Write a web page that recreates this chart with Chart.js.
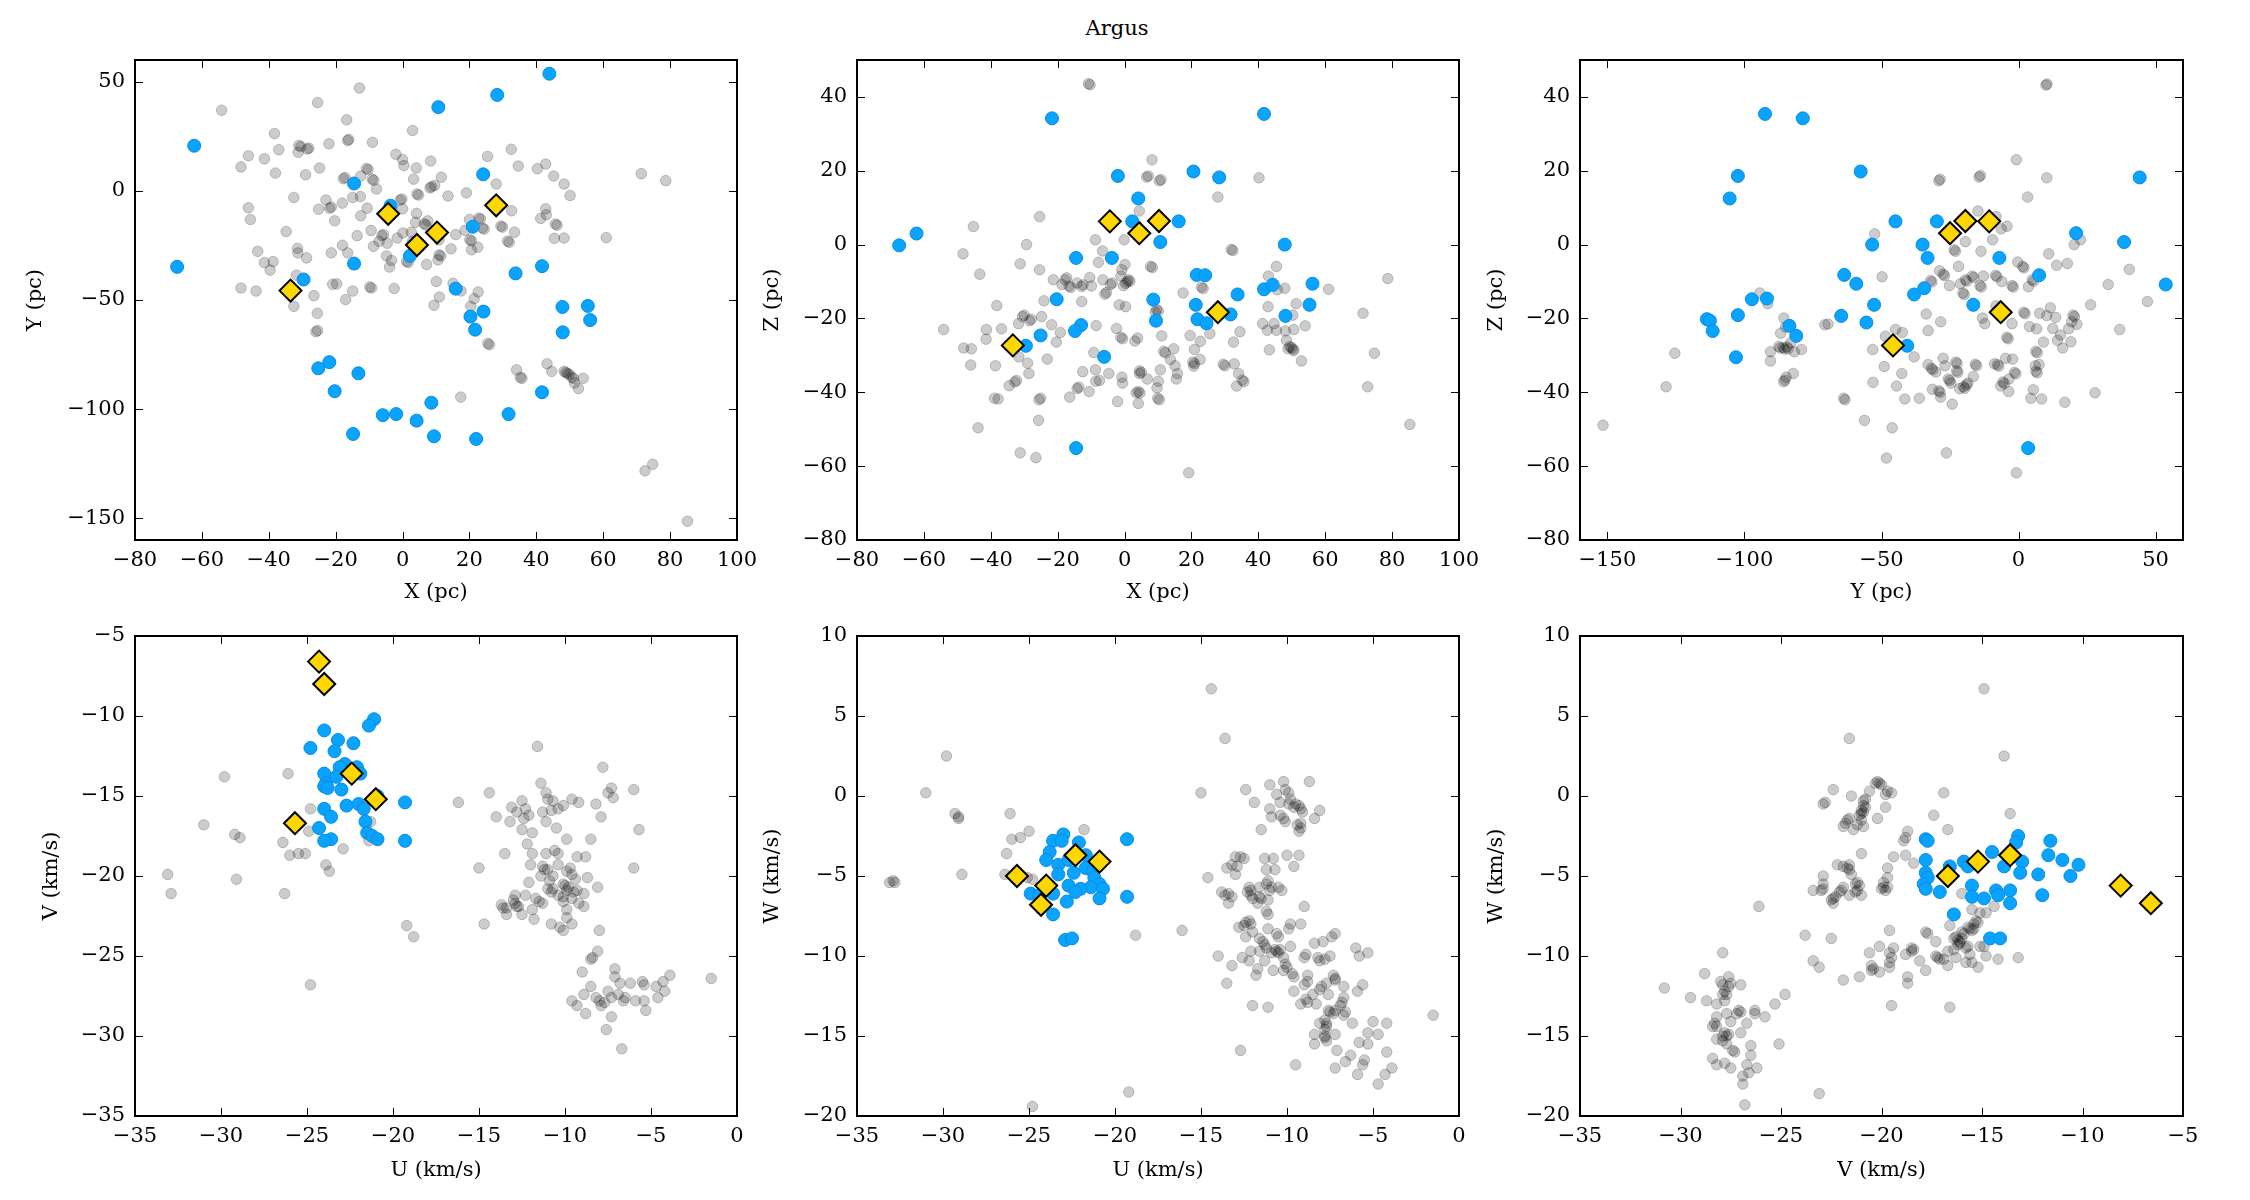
<!DOCTYPE html>
<html>
<head>
<meta charset="utf-8">
<script src="https://cdn.jsdelivr.net/npm/chart.js@4"></script>
<style>
  body { margin: 0; background: #fff; width: 2250px; height: 1200px; position: relative; overflow: hidden; font-family: 'DejaVu Serif'; }
  canvas { position: absolute; }
  #title { position: absolute; left: 0; width: 2234px; top: 16px; text-align: center; font-size: 21px; line-height: 25px; color: #000; }
</style>
</head>
<body>
<div id="title">Argus</div>
<canvas id="c1"></canvas>
<canvas id="c2"></canvas>
<canvas id="c3"></canvas>
<canvas id="c4"></canvas>
<canvas id="c5"></canvas>
<canvas id="c6"></canvas>
<script>
// Ticks
const ticksPcX = [-80, -60, -40, -20, 0, 20, 40, 60, 80, 100];
const ticksY = [-150, -100, -50, 0, 50];
const ticksZ = [-80, -60, -40, -20, 0, 20, 40];
const ticksU = [-35, -30, -25, -20, -15, -10, -5, 0];
const ticksV = [-35, -30, -25, -20, -15, -10, -5];
const ticksW = [-20, -15, -10, -5, 0, 5, 10];

// X - Y (pc)
const xyGray = [[-12.9,47.2],[-25.4,40.5],[-54.1,37],[-16.7,32.6],[3,27.7],[-38.3,26.3],[-16.4,23.1],[-16.1,23.6],[-30.4,20.3],[-31,20.8],[-28,19.6],[-28.5,19.2],[-37,18.9],[-22,21.6],[-9,22.3],[32.5,19.1],[-31.2,17.7],[-46.1,16.1],[-48.3,11],[-41.3,14.7],[-2,16.8],[0,14.4],[8.4,13.7],[25.4,15.8],[34.6,11.4],[42.8,12.3],[40.3,10.2],[45.2,6.8],[48.3,3.2],[50.1,-2.1],[71.4,7.9],[78.7,4.7],[0.4,11.6],[4.1,10.5],[3.3,5.4],[-10.3,9.8],[-10.8,10.3],[-17.7,5.6],[-17.2,6.1],[-8.6,4.9],[-9.1,5.4],[-24.8,10.5],[-29,7.4],[-38,8.2],[-12.5,6.8],[11.6,6.3],[8.7,1.9],[8.2,1.4],[9.6,2.5],[-7.8,0.9],[4.3,-1.4],[4.8,-1.9],[13.6,-2.3],[19.1,-0.9],[28,3.2],[-32.5,-3],[-12.6,-2.6],[-14.9,-3],[-18,-5.6],[-0.7,-4.2],[-0.2,-3.7],[-46.1,-7.7],[-45.5,-13.1],[-25.1,-8.4],[-21.3,-7.4],[-21.8,-7.9],[-22.9,-4.2],[-20.3,-13.7],[-12.5,-11.4],[-10.6,-7.9],[0,-8.2],[4.2,-10.3],[3.9,-14.4],[7.5,-13.7],[6.5,-15.1],[7,-15.6],[20,-13.1],[22.8,-12.4],[23.3,-12.9],[23.9,-17],[24.4,-17.5],[32.6,-9.1],[29.4,-16.1],[29.9,-16.6],[33.5,-18.9],[41.3,-12.6],[42.8,-8.2],[43,-10.9],[45.7,-15.2],[46.2,-15.7],[45.4,-21.7],[48.3,-21.6],[60.9,-21.4],[-34.8,-18.6],[-18,-24.9],[-13.6,-20.5],[-9.4,-18.1],[-5.7,-20],[-6.2,-20.5],[-7,-23.1],[-4.6,-24],[-1.6,-21.6],[0.1,-19.3],[2.6,-18.9],[3,-23.1],[10.9,-22.4],[14.5,-26.5],[15.9,-20],[20.1,-22.4],[20.6,-22.9],[20.6,-27],[22.5,-25.8],[18.7,-18.1],[31.4,-23],[31.9,-23.5],[-31.4,-26.3],[-28.7,-30.7],[-31.3,-28.4],[-43.3,-27.7],[-41.3,-32.8],[-38.7,-32.4],[-39.6,-36.3],[-31.7,-38.6],[-21.3,-28.4],[-16.4,-28.4],[-8.7,-25.4],[-4.8,-29.8],[-3.3,-31.9],[-3.9,-34.9],[1.2,-32.3],[1.7,-32.8],[7.2,-33.7],[10.9,-29.3],[11.4,-29.8],[10.6,-31.6],[-14.9,-45.9],[-17,-49.8],[-9.3,-44.5],[-9.8,-44],[-2.5,-44.7],[-20.9,-42.8],[-19.7,-42.6],[-48.3,-44.5],[-43.8,-45.9],[-32.5,-52.9],[-26.5,-48],[-25.5,-56.1],[-25.4,-64],[-25.9,-64.5],[10.1,-41.5],[11,-48.6],[15.1,-42.4],[17.5,-45.9],[21.4,-49.4],[22.6,-46.3],[20.4,-52.9],[9.4,-52.4],[25.5,-69.9],[26,-70.5],[43.2,-79.2],[44.6,-82.7],[34.1,-82],[35.2,-85.4],[35.7,-85.9],[48.3,-82.7],[48.8,-83.2],[49.3,-83.6],[49.8,-84],[50.6,-85.4],[51.1,-85.9],[51.4,-88],[52.6,-90.6],[54,-85.9],[17.4,-94.5],[72.5,-128.3],[74.8,-125.3],[85.2,-151.4]];
const xyBlue = [[43.9,53.7],[28.3,44],[10.7,38.4],[-62.3,20.7],[24.1,7.6],[-14.5,3.4],[-3.6,-6.8],[21,-16.4],[2.2,-29.8],[-14.5,-33.3],[-67.4,-34.8],[41.7,-34.5],[33.8,-37.8],[-29.6,-40.6],[15.9,-44.8],[47.8,-53.2],[55.4,-52.7],[24.2,-55.3],[20.3,-57.6],[56.1,-59.2],[21.7,-63.6],[47.9,-64.8],[-21.9,-78.5],[-25.2,-81.3],[-13.2,-83.6],[-20.3,-91.8],[41.7,-92.3],[8.6,-97.1],[-5.9,-102.8],[-1.9,-102.3],[31.7,-102.3],[4.2,-105.3],[-14.8,-111.4],[9.4,-112.5],[22,-113.7]];
const xyStar = [[-4.3,-10.5],[28,-6.6],[10.3,-19.1],[4.3,-24.8],[-33.5,-45.7]];

// X - Z (pc)
const xzGray = [[-10.3,43.3],[-10.8,43.6],[8.2,23],[6.6,18.3],[7.1,18.6],[10.4,17.3],[10.9,17.6],[40.2,18.1],[27.9,12.9],[4.4,9.1],[-25.4,7.6],[-45.2,4.9],[-29.3,0],[-48.3,-2.5],[-8.7,1.3],[-0.1,1.3],[-6.6,-1.7],[-7.8,-4.8],[-31.2,-5.2],[-43.3,-8],[-25.4,-6.8],[0.1,-5.4],[-0.8,-6.8],[7.8,-5.9],[8.3,-6.2],[31.9,-1.3],[32.4,-1.6],[45.4,-5.9],[43,-8.5],[45.7,-12.2],[47.9,-11.8],[61,-12.1],[78.7,-9.2],[-21.3,-9.5],[-17.3,-9],[-17.8,-9.5],[-16.6,-11.2],[-16.1,-11.6],[-18.7,-10.8],[-12.4,-10.9],[-12.9,-11.3],[-14.2,-10.4],[-10.4,-8.9],[-6.5,-9.5],[-3.7,-10.4],[-4.2,-10.8],[-1.1,-8.5],[1.1,-9.5],[1.6,-9.9],[0.8,-10.1],[0.3,-10.5],[-0.3,-11.1],[-5.4,-13],[-5.9,-13.4],[-9.9,-11.2],[23,-11.5],[23.5,-11.9],[17.5,-13.1],[42.9,-16.8],[51.3,-16],[50.3,-19.1],[54,-22],[50.6,-23],[41.3,-21.4],[44.7,-21.4],[42.7,-23.2],[45.4,-23.2],[48.1,-23.4],[48.4,-25.9],[49.9,-27.9],[50.4,-28.3],[48.9,-28.2],[49.4,-27.6],[50.6,-28.7],[52.9,-31.5],[43.3,-28.5],[34.5,-23.6],[32.6,-26.4],[25.5,-24.1],[22.7,-26.2],[19.6,-24.6],[20.9,-28.4],[20.4,-31.8],[20.9,-32.2],[20.7,-32.9],[22.6,-31.1],[29.5,-32.4],[30,-32.8],[32.8,-32.3],[34.1,-34.9],[35.2,-36.7],[35.7,-37.1],[33.5,-38.3],[71.3,-18.6],[74.7,-29.4],[72.7,-38.5],[85.3,-48.7],[9.2,-18.3],[9.6,-17.6],[10.1,-18],[11.1,-24.7],[11.7,-28.9],[12.2,-29.3],[14.7,-28.2],[13.7,-31.1],[15.1,-32.8],[15.8,-34.9],[15.5,-36.4],[10.7,-33.9],[10.1,-37],[9.7,-38.8],[9.9,-41.6],[10.4,-42],[4.5,-34.2],[5,-34.6],[4.5,-34.9],[6.8,-36.4],[4.1,-39.8],[4.6,-40.2],[3.5,-40.1],[4.1,-43],[-0.6,-37.5],[-2.1,-42.5],[-0.8,-35.9],[-1.1,-25.1],[-0.6,-25.5],[3.1,-26.1],[3.9,-25.3],[-2.4,-22.7],[0.3,-16.8],[-1.6,-16.3],[-8.5,-21.9],[-9.2,-29.2],[-8.7,-33.9],[-4.7,-34.9],[-7.5,-36.8],[-8.6,-37],[-12.5,-34.4],[-13.7,-38.6],[-14.2,-39],[-10.6,-39.8],[-16.4,-41.3],[-25.1,-41.6],[-25.6,-42],[-25.7,-47.6],[-23.1,-31],[-20.4,-26.4],[-19.2,-23.8],[-21.8,-21.7],[-24.8,-19.5],[-24.1,-15.2],[-12.8,-15.4],[-29,-32.1],[-28.6,-34.9],[-31.6,-30.4],[-30,-19.1],[-30.5,-19.5],[-27.9,-20.2],[-28.4,-20.6],[-31.7,-21.4],[-32.3,-36.8],[-32.8,-37.2],[-34.5,-38.2],[-36.8,-22.8],[-38.2,-16.5],[-41.3,-23],[-41.4,-25.6],[-45.8,-28.2],[-48.1,-28],[-46,-32.6],[-38.6,-32.8],[-54.1,-23],[-38.9,-41.6],[-37.8,-41.8],[-43.8,-49.6],[-31.2,-56.4],[-26.5,-57.7],[19.2,-61.8]];
const xzBlue = [[-21.7,34.2],[41.7,35.4],[-2,18.6],[20.6,19.8],[28.3,18.2],[4.1,12.5],[2.3,6.3],[16.2,6.3],[-67.4,-0.2],[-62.2,3],[10.7,0.7],[47.9,0],[-14.5,-3.6],[-3.8,-3.6],[21.6,-8.2],[24.1,-8.3],[41.7,-12.1],[44.3,-10.9],[56.2,-10.6],[33.8,-13.5],[-20.3,-14.8],[8.6,-14.9],[21.3,-16.3],[55.3,-16.3],[9.4,-20.6],[21.8,-20.2],[31.7,-18.9],[24.5,-21.3],[48.1,-19.3],[-13,-21.8],[-14.8,-23.4],[-25.1,-24.6],[-29.5,-27.4],[-6.1,-30.4],[-14.5,-55.1]];
const xzStar = [[-4.4,6.3],[4.4,3.1],[10.3,6.4],[27.9,-18.3],[-33.4,-27.3]];

// Y - Z (pc)
const yzGray = [[10,43.2],[10.4,43.5],[-0.8,23],[-29.1,17.3],[-28.6,17.7],[-14.4,18.3],[-13.9,18.7],[10.3,18.1],[3.3,12.9],[-52.5,2.9],[-14.8,9.1],[-8.2,7.6],[-4.2,5],[-6.3,4.3],[-9.5,1.3],[-19.4,0.8],[-23.5,-1.4],[-23,-1.8],[-13.7,-1.8],[11,-2.5],[13.9,-5.6],[17.8,-5.1],[22.6,1.3],[20.3,0],[-0.3,-4.7],[1.5,-5.9],[2,-6.3],[40.4,-6.7],[-21.9,-5.9],[-28.8,-7.1],[-27.5,-8],[-27,-8.4],[-49.8,-8.7],[-32.1,-9.7],[-31.6,-10.1],[-25.2,-11.1],[-21.2,-10.6],[-19.4,-9.5],[-18.9,-9.9],[-16.9,-8.5],[-16.4,-8.9],[-14.1,-11.1],[-13.6,-11.5],[-12.8,-8.5],[-8.4,-8.3],[-7.9,-8.7],[-6.1,-10],[-2.4,-11.1],[-1.9,-11.5],[5,-9.5],[5.5,-9.9],[3.6,-11.4],[-20.3,-13.1],[-19.8,-13.5],[32.7,-10.8],[47,-15.4],[26.3,-16.3],[7.7,-18.6],[1.9,-18.3],[2.4,-18.7],[11.6,-17.1],[10.3,-19.2],[13.5,-19.7],[19.9,-19.1],[20.4,-19.5],[19.4,-20.9],[21.3,-21.6],[18.3,-22.8],[14.2,-25.9],[12.5,-22.7],[15.3,-24.5],[19.1,-26.3],[16.1,-28],[9.1,-26.4],[6.6,-22.8],[4,-22.2],[-2.4,-21.4],[-13.2,-19.9],[-12.3,-21.4],[-8.2,-16.6],[36.9,-23],[-4.3,-25.1],[-3.8,-25.5],[6.3,-28.9],[6.8,-29.3],[6.1,-32.8],[7.5,-32.5],[6.3,-34.3],[6.8,-34.7],[5.4,-39.3],[4.5,-41.6],[8.4,-41.8],[16.9,-42.7],[27.9,-40.1],[-2.2,-31],[-4.7,-30.8],[-8.8,-32.3],[-7.7,-32.5],[-7.2,-32.9],[-1.5,-34.6],[-1,-35],[-3.5,-36.4],[-5.7,-37.2],[-5.2,-37.6],[-6.5,-38.3],[-3.6,-39.8],[-15.8,-32.4],[-15.3,-32.8],[-16.5,-35.7],[-18.5,-37.5],[-20.1,-38.5],[-19.6,-38.9],[-19,-38],[-21.5,-39],[-22.9,-31.8],[-22.4,-32.2],[-22.6,-34.2],[-22.1,-34.6],[-25.6,-36.4],[-25.1,-36.8],[-24.7,-37.5],[-27.5,-30.8],[-26.8,-32.8],[-33,-32.5],[-31.8,-33.5],[-31.3,-33.9],[-30.2,-34.5],[-29.1,-39.6],[-28.6,-40],[-31.4,-39.2],[-28.4,-41.3],[-24.2,-43.2],[-33.7,-18.8],[-28.4,-20.9],[-33,-23.3],[-38.1,-30.4],[-42.6,-34.9],[-44.9,-23],[-42.4,-23.8],[-48.6,-24.8],[-53.2,-28.4],[-49,-33],[-53.1,-37.3],[-44.5,-38.3],[-41.5,-41.8],[-36.2,-41.6],[-63.8,-41.6],[-63.3,-42],[-56.2,-47.6],[-46.1,-49.6],[-48.2,-57.8],[-26.3,-56.4],[-0.8,-61.8],[-94.4,-13.1],[-91.5,-16],[-85.6,-19.9],[-85,-22.3],[-86.8,-24],[-87.5,-27.6],[-87,-28],[-85.8,-27.9],[-85.3,-28.3],[-84,-28.2],[-84.5,-27.7],[-83.1,-26.6],[-81.8,-29],[-79.2,-28.4],[-90.5,-29],[-90.5,-31.5],[-85.2,-36.7],[-85.7,-37.1],[-84.8,-35.9],[-82.2,-34.9],[-69.5,-21.5],[-70.7,-21.7],[-125.4,-29.4],[-128.6,-38.5],[-151.6,-48.9]];
const yzBlue = [[-92.5,35.4],[-78.7,34.2],[-57.6,19.8],[-102.4,18.6],[-105.4,12.5],[44.2,18.2],[-44.9,6.3],[-29.8,6.3],[-53.4,0],[-35,0],[-33.2,-3.6],[-7,-3.6],[21,3.1],[38.5,0.7],[-63.6,-8.2],[-59.2,-10.6],[7.5,-8.3],[53.7,-10.8],[-97.3,-14.8],[-91.8,-14.6],[-38.1,-13.5],[-34.4,-11.8],[-52.7,-16.3],[-16.5,-16.3],[-113.7,-20.2],[-112.6,-20.6],[-111.6,-23.4],[-102.4,-19.1],[-64.7,-19.3],[-55.5,-21.1],[-83.6,-22],[-81.1,-24.7],[-40.6,-27.4],[-103.1,-30.5],[3.5,-55.1]];
const yzStar = [[-25,3.1],[-19.4,6.4],[-10.7,6.3],[-6.5,-18.3],[-45.8,-27.3]];

// U - V (km/s)
const uvGray = [[-33.1,-19.9],[-32.9,-21.1],[-29.8,-13.8],[-31,-16.8],[-29.2,-17.4],[-28.9,-17.6],[-29.1,-20.2],[-26.4,-17.9],[-26.1,-13.6],[-26,-18.7],[-25.5,-18.6],[-25.1,-18.6],[-26.3,-21.1],[-24.8,-15.8],[-24.9,-17.2],[-23.9,-19.3],[-23.7,-19.7],[-22.9,-18.3],[-24.8,-26.8],[-21.3,-16.6],[-21.4,-17.8],[-19.2,-23.1],[-18.8,-23.8],[-16.2,-15.4],[-15,-19.5],[-14.4,-14.8],[-14.7,-23],[-14,-16.3],[-13.5,-18.6],[-13.2,-16.6],[-13.1,-15.7],[-12.8,-16],[-12.5,-15.3],[-12.5,-17.1],[-12.3,-15.8],[-12.1,-16.2],[-12.4,-16.4],[-11.9,-17.3],[-12.2,-18],[-11.9,-18.6],[-11.6,-11.9],[-11.4,-14.2],[-11.1,-14.8],[-11,-15.2],[-10.8,-15.9],[-11.3,-16],[-10.7,-15.3],[-10.4,-15.8],[-10.1,-15.6],[-10.5,-17],[-11.1,-16.6],[-9.9,-17.7],[-11.1,-18.6],[-10.6,-18.4],[-10.4,-18.6],[-9.6,-15.2],[-9.2,-15.4],[-9.3,-18.8],[-8.8,-18.8],[-8.2,-15.5],[-7.9,-16.3],[-7.8,-13.2],[-7.5,-14.8],[-7.3,-14.5],[-7.2,-15.1],[-8.5,-17.7],[-6,-14.6],[-5.7,-17.1],[-6,-19.5],[-8.1,-20.7],[-8,-23.4],[-8.1,-24.7],[-8.5,-25.2],[-8.4,-25.1],[-9,-26],[-7.1,-25.8],[-7.1,-26.3],[-8.9,-27.4],[-8.5,-26.9],[-9.6,-27.8],[-9.3,-28.1],[-8.8,-28.6],[-8.2,-27.6],[-7.7,-27.9],[-7.9,-28.1],[-8,-27.8],[-7.5,-27.2],[-7.3,-27.6],[-6.9,-27.4],[-6.6,-27.8],[-6.5,-27.6],[-6.8,-26.7],[-6.2,-26.7],[-5.9,-27.8],[-5.5,-26.6],[-5.4,-26.8],[-5.4,-27.8],[-5.3,-28.4],[-4.7,-26.9],[-4.6,-27.6],[-4.3,-26.6],[-4.2,-27.2],[-3.9,-26.2],[-7.3,-28.8],[-7.6,-29.6],[-6.7,-30.8],[-1.5,-26.4],[-12,-19.3],[-11.3,-19.4],[-11.2,-19.6],[-11,-19.6],[-10.4,-19.3],[-9.9,-19.7],[-9.7,-19.5],[-9.6,-19.9],[-9.4,-20.2],[-8.7,-20.1],[-10.1,-20.5],[-9.8,-20.7],[-10,-20.6],[-9.9,-20.9],[-9.3,-20.9],[-9.5,-21],[-8.9,-21.1],[-11,-20.8],[-10.8,-21],[-10.7,-20.8],[-10.4,-21.2],[-10.1,-21.3],[-9.6,-21.4],[-9.2,-21.7],[-8.9,-21.9],[-10.1,-21.6],[-9.9,-22.1],[-9.9,-22.6],[-9.6,-23],[-10.3,-23.2],[-10.1,-23.4],[-10.8,-23],[-11.8,-22.7],[-11.9,-22.1],[-11.7,-21.4],[-11.5,-21.6],[-11.3,-21.7],[-12.3,-21.2],[-12.9,-21.2],[-13,-21.5],[-12.9,-21.7],[-12.7,-21.9],[-12.8,-21.9],[-12.5,-22.4],[-13.4,-22],[-13.7,-21.8],[-13.6,-22],[-13.4,-22.4],[-12.1,-20.4],[-10.9,-20.3],[-10.7,-20],[-11.4,-20]];
const uvBlue = [[-21.1,-10.2],[-21.4,-10.6],[-24,-10.9],[-24.8,-12],[-23.2,-11.5],[-22.3,-11.7],[-23.4,-12.2],[-22.8,-13],[-23.1,-13.2],[-22.1,-13.2],[-24,-13.6],[-23.9,-14.2],[-24,-14.4],[-23.8,-14.5],[-23,-14.6],[-23.3,-13.8],[-21.9,-13.6],[-22.7,-15.6],[-22,-15.5],[-20.9,-15],[-19.3,-15.4],[-24,-15.8],[-21.7,-15.8],[-23.6,-16.3],[-21.6,-16.6],[-24.3,-17],[-21.5,-17.3],[-21.2,-17.5],[-20.9,-17.7],[-23.6,-17.7],[-24,-17.8],[-19.3,-17.8]];
const uvStar = [[-24.3,-6.6],[-24,-8],[-22.4,-13.6],[-21,-15.2],[-25.7,-16.7]];

// U - W (km/s)
const uwGray = [[-14.4,6.7],[-13.6,3.6],[-29.8,2.5],[-31,0.2],[-15,0.2],[-29.1,-1.3],[-29.3,-1.1],[-29.1,-1.4],[-26.1,-1.1],[-26,-2.7],[-25.5,-2.6],[-25,-2.2],[-21.8,-2.1],[-26.3,-3.6],[-28.9,-4.9],[-26.4,-4.9],[-24.8,-5.2],[-25.1,-5.1],[-33.1,-5.4],[-32.8,-5.4],[-32.9,-5.3],[-16.1,-8.4],[-18.8,-8.7],[-19.2,-18.5],[-24.8,-19.4],[-12.4,0.4],[-11.9,-0.4],[-11,0.7],[-10.2,0.9],[-10.6,0.1],[-11,-0.8],[-10.9,-1.3],[-11.5,-2.1],[-10.2,-1.4],[-10.4,-1.2],[-10.1,-1.6],[-9.9,0.2],[-10.1,0.4],[-9.8,-0.2],[-9.9,-0.5],[-9.6,-0.7],[-9.5,-0.5],[-10.4,-0.4],[-9.2,-0.8],[-9.3,-0.6],[-9.1,-1],[-9.2,-1.7],[-9.4,-1.8],[-9.2,-2],[-9.3,-2.2],[-8.7,0.9],[-8.4,-1.4],[-8.1,-0.9],[-9.3,-3.7],[-10,-3.7],[-9.6,-4.4],[-10.8,-3.9],[-11.3,-3.9],[-11.2,-4.6],[-10.7,-4.6],[-12.7,-3.8],[-12.5,-3.9],[-13,-3.8],[-12.9,-4.4],[-13,-4.9],[-14.6,-5.1],[-13.8,-6],[-13.4,-6.1],[-13.6,-6.2],[-13.2,-6.3],[-13.4,-6.7],[-12.2,-5.7],[-12.1,-5.9],[-12.3,-6],[-11.6,-5.7],[-11.2,-5.5],[-11.1,-5.3],[-10.9,-5.7],[-11,-5.9],[-10.5,-5.7],[-10.3,-5.9],[-11.6,-6.3],[-11.5,-6.4],[-11.7,-6.7],[-11.2,-7.2],[-11.1,-7.4],[-11.1,-6.5],[-12,-6.4],[-12.1,-6.2],[-9,-6.9],[-9.2,-8],[-12.8,-8.2],[-12.4,-7.9],[-12.5,-8.1],[-12.1,-8],[-12.2,-7.8],[-12,-8.5],[-12.4,-8.8],[-11.6,-8.9],[-11.4,-9.1],[-11.3,-9.3],[-11.2,-9.5],[-11.1,-8.3],[-10.6,-8.6],[-10.5,-8.8],[-9.9,-8.3],[-9.8,-8],[-10.7,-9.6],[-10.6,-9.7],[-10.5,-9.8],[-10.4,-9.6],[-10.9,-9.8],[-11.6,-9.7],[-12.1,-9.7],[-12.6,-10.1],[-12.2,-10.3],[-11.3,-10.3],[-10.2,-10.1],[-10.1,-10.5],[-10,-10.7],[-10.2,-10.9],[-10.8,-10.9],[-9.8,-9.4],[-8.9,-9.9],[-9,-10.1],[-8.4,-9.2],[-7.9,-9.1],[-7.2,-8.6],[-7.4,-8.8],[-7.5,-10],[-8.1,-10.3],[-8.2,-10.1],[-7.8,-10.2],[-8.8,-11.2],[-8.8,-11.6],[-9.6,-12.2],[-9.2,-13],[-8.8,-12.9],[-8.9,-12.7],[-8,-11.9],[-8.1,-12.1],[-7.7,-11.7],[-7.6,-12.4],[-7.3,-11.2],[-7.2,-11.4],[-7.2,-11.5],[-6.7,-11.9],[-6.7,-12.6],[-6.9,-13.1],[-6.8,-12.9],[-7.2,-13.4],[-7.3,-13.6],[-7.5,-13.5],[-7.6,-13.4],[-6.6,-13.5],[-6.7,-13.7],[-7.7,-14.2],[-7.8,-14],[-7.7,-14.4],[-7.8,-14.6],[-8.1,-14.2],[-8.4,-14.9],[-7.8,-15],[-7.2,-14.9],[-8.4,-15.5],[-7.7,-15.3],[-7.8,-15.1],[-6.2,-14.2],[-6,-9.5],[-5.8,-10],[-5.3,-9.8],[-5.6,-11.8],[-5.9,-12.2],[-5,-14.1],[-4.2,-14.2],[-4.7,-14.9],[-5.3,-14.8],[-5.3,-15.5],[-5.8,-15.4],[-7.1,-15.9],[-6.3,-16.2],[-6.6,-16.6],[-5.5,-16.5],[-5.6,-16.8],[-7.2,-17],[-5.9,-17.4],[-4.2,-16],[-3.9,-17],[-4.3,-17.4],[-4.7,-18],[-1.5,-13.7],[-12.7,-15.9],[-9.5,-16.8],[-12,-13.1],[-11.1,-13.2],[-13.5,-11.7],[-14,-10],[-13.2,-10.6],[-11.7,-10.8],[-11.8,-11.2],[-9.6,-11.3],[-9.7,-11.1],[-9,-11.8],[-8.3,-13],[-8.5,-12.4],[-13.5,-4.5],[-13.2,-4.3]];
const uwBlue = [[-23,-2.4],[-23.6,-2.8],[-23.1,-2.8],[-22.1,-2.9],[-19.3,-2.7],[-23.8,-3.5],[-24,-4],[-23.3,-4.3],[-22.7,-4],[-21.7,-3.7],[-21.7,-4.5],[-21.3,-4.7],[-23.3,-4.9],[-22.4,-4.8],[-21.2,-5.1],[-20.9,-5.5],[-22.7,-5.6],[-21.4,-5.7],[-22,-5.8],[-22.3,-6],[-20.7,-5.8],[-24.9,-6.1],[-24.4,-6.2],[-23.6,-6.1],[-20.9,-6.4],[-19.3,-6.3],[-22.8,-6.6],[-23.6,-7.4],[-22.9,-9],[-22.5,-8.9]];
const uwStar = [[-25.7,-5],[-24,-5.6],[-24.3,-6.8],[-22.3,-3.7],[-20.9,-4.1]];

// V - W (km/s)
const vwGray = [[-14.9,6.7],[-21.6,3.6],[-13.9,2.5],[-16.9,0.2],[-13.6,-1.1],[-17.4,-1.2],[-16.7,-2.1],[-18.7,-2.2],[-18.8,-2.6],[-18.9,-2.8],[-19.4,-3.8],[-18.8,-3.7],[-18.4,-4.2],[-22.4,0.4],[-22.8,-0.4],[-22.9,-0.5],[-21.5,0],[-20.2,0.9],[-20.3,0.8],[-20.1,0.8],[-20,0.7],[-19.7,0.3],[-19.8,0.1],[-19.5,0.2],[-20.6,0.3],[-20.8,-0.2],[-20.9,-0.3],[-20.8,-0.7],[-20.9,-0.6],[-20.9,-1],[-21,-0.9],[-21,-1.1],[-21.1,-1.2],[-19.8,-0.7],[-20.2,-1.4],[-21,-1.5],[-21.6,-1.4],[-21.7,-1.5],[-21.8,-1.7],[-21.4,-2.1],[-21.9,-1.9],[-20.9,-1.9],[-21.2,-1.8],[-26.1,-6.9],[-21,-3.6],[-22.2,-4.3],[-21.9,-4.4],[-21.6,-4.3],[-21.7,-4.5],[-21.6,-4.6],[-21.5,-4.9],[-22.9,-5],[-22.9,-5.5],[-23.4,-5.9],[-22.9,-5.8],[-23,-5.9],[-22.4,-6.4],[-22.5,-6.5],[-22.3,-6.3],[-22.4,-6.7],[-22,-5.9],[-22.1,-6],[-21.9,-5.7],[-21.6,-6.2],[-21.2,-5.4],[-21.3,-5.5],[-21.2,-5.9],[-21.3,-6],[-21,-6.2],[-21.1,-5.6],[-19.9,-5.4],[-19.9,-5.7],[-20,-5.8],[-19.7,-5.1],[-19.7,-4.5],[-19.7,-5.7],[-19.8,-5.9],[-23.8,-8.7],[-22.5,-8.9],[-23.4,-10.3],[-23.1,-10.7],[-21.9,-11.5],[-21.1,-11.3],[-20.6,-9.8],[-20.5,-10.6],[-20.4,-10.8],[-20.5,-10.9],[-20.1,-11],[-20.1,-9.4],[-19.6,-8.4],[-19.6,-9.8],[-19.5,-10.1],[-19.6,-10.4],[-19.6,-10.7],[-19.4,-9.5],[-19.5,-13.1],[-18.8,-9.9],[-18.7,-11.3],[-18.7,-11.7],[-18.4,-9.6],[-18.5,-9.5],[-18.5,-9.7],[-18.1,-10.3],[-17.8,-10.9],[-17.7,-8.6],[-17.8,-8.5],[-17.3,-9.1],[-17.2,-10.1],[-17.3,-10],[-17.1,-10.2],[-16.9,-10.2],[-16.7,-10.6],[-16.6,-13.2],[-16.7,-9.7],[-16.6,-8.1],[-16.3,-8.8],[-16.4,-8.9],[-16.2,-9],[-16.1,-9.1],[-16,-8.9],[-15.9,-8.6],[-16,-8.5],[-15.6,-8.3],[-15.7,-8.2],[-15.4,-8.3],[-15.5,-8.4],[-15.4,-8],[-15.2,-7.9],[-15.3,-7.8],[-15.1,-7.3],[-14.8,-7.3],[-16.1,-9.2],[-16.2,-9.3],[-15.7,-9.4],[-15.8,-9.5],[-16.4,-9.6],[-16.3,-10.1],[-15.8,-10.4],[-15.5,-10.4],[-15.2,-10.7],[-15.6,-9.9],[-15.1,-9.4],[-14.8,-10],[-14.9,-9.4],[-16,-6.1],[-15.5,-7.1],[-14.2,-10.2],[-13.2,-10.1],[-14.4,-6.9],[-30.8,-12],[-29.5,-12.6],[-28.8,-11.1],[-28.7,-12.8],[-27.9,-9.8],[-27.9,-11.8],[-28,-11.6],[-27.6,-11.3],[-27.5,-11.7],[-27.6,-11.9],[-27.8,-12.2],[-27.9,-12.4],[-27.7,-12.4],[-27.8,-12.8],[-28.2,-13],[-28.2,-13.8],[-27.7,-13.6],[-27.5,-14.1],[-28.3,-14.2],[-28.4,-14.4],[-28.2,-14.4],[-27.8,-14.8],[-27.9,-15],[-27.7,-15],[-27.6,-14.9],[-27.9,-15.3],[-28.2,-15.2],[-27.7,-15.5],[-27.4,-15.9],[-27.3,-16],[-28.4,-16.4],[-28.2,-16.8],[-27.8,-16.7],[-27.5,-17],[-26.9,-17.5],[-26.9,-18],[-26.8,-19.3],[-26.7,-16.8],[-26.6,-17.3],[-26.2,-17],[-26.5,-16.2],[-26.5,-15.6],[-27,-11.8],[-27.2,-13.6],[-27,-13.5],[-27.1,-13.4],[-27,-14.8],[-26.7,-14.2],[-26.3,-13.4],[-26.3,-13.6],[-25.8,-13.8],[-25.3,-13],[-24.8,-12.4],[-25.1,-15.5],[-23.1,-18.6]];
const vwBlue = [[-17.8,-2.7],[-17.7,-2.8],[-17.8,-4],[-17.8,-4.8],[-17.7,-5.1],[-17.9,-5.5],[-17.8,-5.8],[-17.1,-6],[-16.6,-4.4],[-15.9,-4.1],[-15.7,-4.4],[-15.5,-5.6],[-15.5,-6.3],[-14.9,-6.4],[-16.4,-7.4],[-14.5,-3.5],[-13.9,-4.4],[-13.6,-5.9],[-14.3,-5.9],[-14.2,-6.2],[-13.6,-6.7],[-13.2,-2.5],[-13.3,-2.9],[-13,-4.1],[-13.1,-4.8],[-12.2,-4.9],[-12,-6.2],[-11.6,-2.8],[-11.7,-3.7],[-11,-4],[-10.6,-5],[-10.2,-4.3],[-14.6,-8.9],[-14.1,-8.9]];
const vwStar = [[-16.7,-5],[-15.2,-4.1],[-13.6,-3.7],[-8.1,-5.6],[-6.6,-6.7]];

Chart.defaults.font.family = "'DejaVu Serif'";
Chart.defaults.font.size = 21;
Chart.defaults.color = '#000';

// cadre + graduations vers l'intérieur, sur les quatre côtés
const frame = {
  id: 'frame',
  afterDatasetsDraw(chart) {
    const { ctx, chartArea: a, scales: { x, y } } = chart;
    ctx.save();
    ctx.strokeStyle = '#000';
    ctx.lineWidth = 1;
    ctx.beginPath();
    x.ticks.forEach(t => {
      const p = Math.round(x.getPixelForValue(t.value)) + 0.5;
      ctx.moveTo(p, a.bottom); ctx.lineTo(p, a.bottom - 8);
      ctx.moveTo(p, a.top); ctx.lineTo(p, a.top + 8);
    });
    y.ticks.forEach(t => {
      const p = Math.round(y.getPixelForValue(t.value)) + 0.5;
      ctx.moveTo(a.left, p); ctx.lineTo(a.left + 8, p);
      ctx.moveTo(a.right, p); ctx.lineTo(a.right - 8, p);
    });
    ctx.stroke();
    ctx.lineWidth = 2;
    ctx.strokeRect(a.left, a.top, a.right - a.left, a.bottom - a.top);
    ctx.restore();
  }
};

const pts = arr => arr.map(p => ({ x: p[0], y: p[1] }));
const minus = v => String(v).replace('-', '\u2212');

const panels = [
  { id: 'c1', left: 135, top: 60, width: 602, yW: 116, xH: 69, x: [-80, 100], y: [-160, 60], xt: ticksPcX, yt: ticksY, xl: 'X (pc)', yl: 'Y (pc)', gray: xyGray, blue: xyBlue, star: xyStar },
  { id: 'c2', left: 857, top: 60, width: 602, yW: 101, xH: 69, x: [-80, 100], y: [-80, 50], xt: ticksPcX, yt: ticksZ, xl: 'X (pc)', yl: 'Z (pc)', gray: xzGray, blue: xzBlue, star: xzStar },
  { id: 'c3', left: 1580, top: 60, width: 603, yW: 100, xH: 69, x: [-160, 60], y: [-80, 50], xt: ticksY, yt: ticksZ, xl: 'Y (pc)', yl: 'Z (pc)', gray: yzGray, blue: yzBlue, star: yzStar },
  { id: 'c4', left: 135, top: 636, width: 602, yW: 100, xH: 71, x: [-35, 0], y: [-35, -5], xt: ticksU, yt: ticksV, xl: 'U (km/s)', yl: 'V (km/s)', gray: uvGray, blue: uvBlue, star: uvStar },
  { id: 'c5', left: 857, top: 636, width: 602, yW: 101, xH: 71, x: [-35, 0], y: [-20, 10], xt: ticksU, yt: ticksW, xl: 'U (km/s)', yl: 'W (km/s)', gray: uwGray, blue: uwBlue, star: uwStar },
  { id: 'c6', left: 1580, top: 636, width: 603, yW: 100, xH: 71, x: [-35, -5], y: [-20, 10], xt: ticksV, yt: ticksW, xl: 'V (km/s)', yl: 'W (km/s)', gray: vwGray, blue: vwBlue, star: vwStar }
];

panels.forEach(p => {
  const canvas = document.getElementById(p.id);
  canvas.width = p.yW + p.width + 30;
  canvas.height = 15 + 480 + p.xH;
  canvas.style.left = (p.left - p.yW) + 'px';
  canvas.style.top = (p.top - 15) + 'px';

  new Chart(canvas, {
    type: 'scatter',
    data: {
      datasets: [
        {
          data: pts(p.star),
          order: 1,
          pointStyle: 'rectRot',
          pointRadius: 11,
          backgroundColor: '#ffd700',
          borderColor: '#000',
          borderWidth: 2
        },
        {
          data: pts(p.blue),
          order: 2,
          pointRadius: 6.5,
          backgroundColor: '#08a4ff',
          borderColor: '#0a8be0',
          borderWidth: 1
        },
        {
          data: pts(p.gray),
          order: 3,
          pointRadius: 5.3,
          backgroundColor: 'rgba(0,0,0,0.2)',
          borderColor: 'rgba(0,0,0,0.2)',
          borderWidth: 1
        }
      ]
    },
    options: {
      responsive: false,
      animation: false,
      events: [],
      layout: { padding: { left: 0, top: 15, right: 30, bottom: 0 } },
      plugins: { legend: { display: false }, tooltip: { enabled: false } },
      scales: {
        x: {
          min: p.x[0], max: p.x[1],
          grid: { display: false, drawTicks: false },
          border: { display: false },
          ticks: { padding: 8, autoSkip: false, maxRotation: 0, callback: minus },
          title: { display: true, text: p.xl, padding: { top: 4, bottom: 4 } },
          afterBuildTicks: s => { s.ticks = p.xt.map(v => ({ value: v })); },
          afterFit: s => { s.height = p.xH; s.paddingLeft = 0; s.paddingRight = 0; }
        },
        y: {
          min: p.y[0], max: p.y[1],
          grid: { display: false, drawTicks: false },
          border: { display: false },
          ticks: { padding: 10, autoSkip: false, callback: minus },
          title: { display: true, text: p.yl, padding: { top: 4, bottom: 4 } },
          afterBuildTicks: s => { s.ticks = p.yt.map(v => ({ value: v })); },
          afterFit: s => { s.width = p.yW; s.paddingTop = 0; s.paddingBottom = 0; }
        }
      }
    },
    plugins: [frame]
  });
});
</script>
</body>
</html>
